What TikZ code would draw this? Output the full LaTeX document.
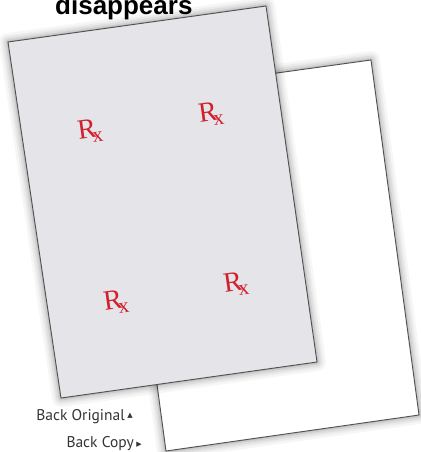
\documentclass[tikz,border=0pt]{standalone}
\usepackage{fontspec}
\setmainfont{Liberation Serif}
\newfontfamily\labelfont{PT Sans}
\newfontfamily\titlefont{Liberation Sans}
\newfontfamily\symfont{DejaVu Sans}
\definecolor{sheetgray}{RGB}{229,229,233}
\definecolor{edgegray}{RGB}{80,80,80}
\definecolor{rxred}{RGB}{208,32,44}
\newcommand{\rxsym}{{\fontsize{28}{28}\selectfont R\kern-0.17em\raisebox{-0.16em}{\fontsize{21}{21}\selectfont x}}}
\begin{document}
\begin{tikzpicture}[x=1pt,y=-1pt,
  sheet/.style={draw=edgegray, line width=0.9pt, line join=round},
  shadowlayer/.style={draw=black, line join=round, shift={(3,6)}},
  rxmark/.style={text=rxred, rotate=8, inner sep=0pt},
  lab/.style={font=\labelfont\fontsize{15.5}{16}\selectfont, text=black!80, anchor=base east, inner sep=0pt}]
\useasboundingbox (0,0) rectangle (420,452);
% corners
\coordinate (wTL) at (118,95);
\coordinate (wTR) at (371,60);
\coordinate (wBR) at (419,415);
\coordinate (wBL) at (166,451);
\coordinate (gTL) at (8,42);
\coordinate (gTR) at (266,6);
\coordinate (gBR) at (317,362);
\coordinate (gBL) at (61,398);
% back copy sheet with soft shadow
\foreach \w/\o in {18/0.035, 13/0.045, 9/0.055, 5/0.07, 2/0.09}{
  \draw[shadowlayer, line width=\w pt, draw opacity=\o] (wTL) -- (wTR) -- (wBR) -- (wBL) -- cycle;
}
\filldraw[sheet, fill=white] (wTL) -- (wTR) -- (wBR) -- (wBL) -- cycle;
% back original sheet with soft shadow
\foreach \w/\o in {18/0.035, 13/0.045, 9/0.055, 5/0.07, 2/0.09}{
  \draw[shadowlayer, line width=\w pt, draw opacity=\o] (gTL) -- (gTR) -- (gBR) -- (gBL) -- cycle;
}
\filldraw[sheet, fill=sheetgray] (gTL) -- (gTR) -- (gBR) -- (gBL) -- cycle;
% Rx marks
\node[rxmark] (rx1) at (90,131) {\rxsym};
\node[rxmark] (rx2) at (211,114) {\rxsym};
\node[rxmark] (rx3) at (116,302) {\rxsym};
\node[rxmark] (rx4) at (236,284) {\rxsym};
% title
\node[anchor=base west, inner sep=0pt, font=\titlefont\bfseries\fontsize{26}{26}\selectfont] (title) at (55,15) {disappears};
% labels
\node[lab] (orig) at (133,420) {Back Original\,\raisebox{3pt}{\symfont\fontsize{7}{7}\selectfont ▲}};
\node[lab] (copy) at (142,447) {Back Copy\,\raisebox{1pt}{\symfont\fontsize{7}{7}\selectfont ▶}};
\end{tikzpicture}
\end{document}
